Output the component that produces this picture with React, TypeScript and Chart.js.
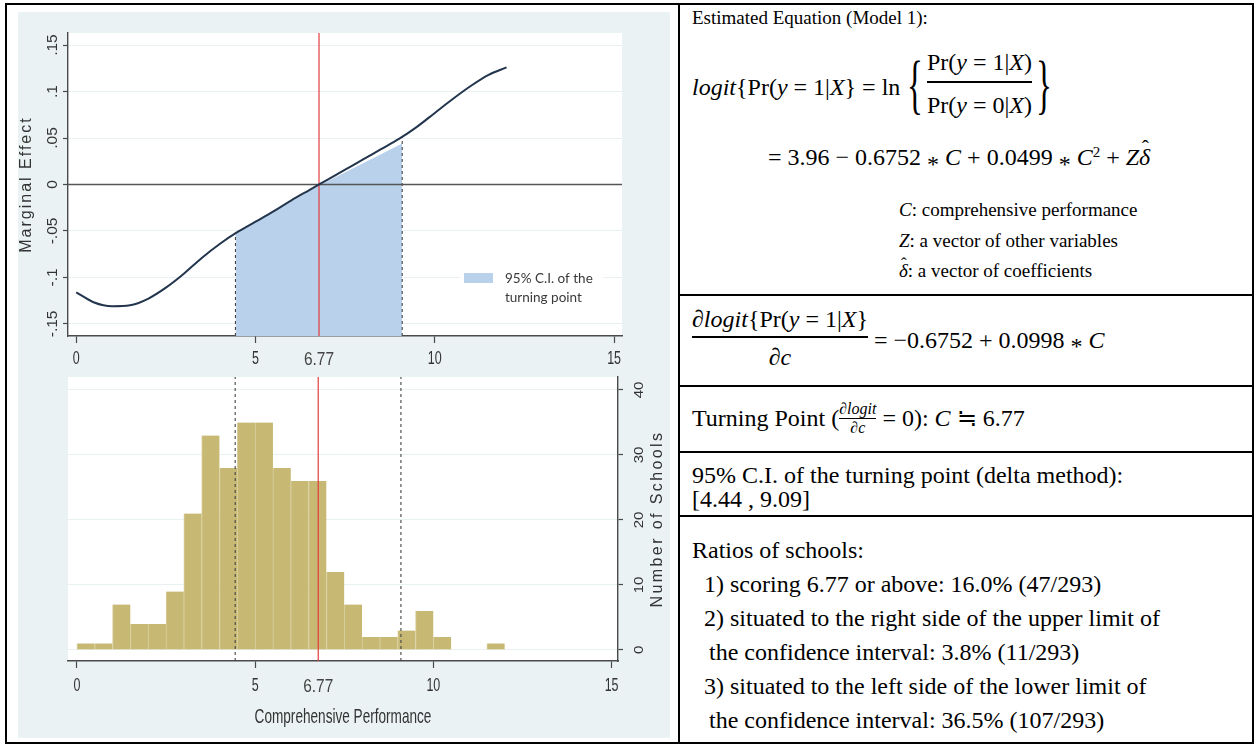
import React, { useEffect, useRef } from "react";
import { Chart, registerables } from "chart.js";

Chart.register(...registerables);

// ---------- data ----------
const TURNING = 6.77;
const CI_LOW = 4.44;
const CI_HIGH = 9.09;

const CURVE_X = [0, 0.5, 1, 1.5, 2, 2.5, 3, 3.5, 4, 4.5, 5, 5.5, 6, 6.5, 7, 7.5, 8, 8.5, 9, 9.5, 10, 10.5, 11, 11.5, 12];
const CURVE_Y = [-0.116, -0.127, -0.131, -0.13, -0.123, -0.111, -0.096, -0.079, -0.064, -0.051, -0.04, -0.029, -0.017, -0.006, 0.005, 0.016, 0.027, 0.038, 0.049, 0.062, 0.077, 0.092, 0.106, 0.118, 0.126];

const SHADE_X = [4.44, 6.77, 9.09];
const SHADE_Y = [-0.053, -0.001, 0.044];
const CI_LOW_CURVE = -0.052;
const CI_HIGH_CURVE = 0.051;

const BIN_WIDTH = 0.5;
const BIN_START = [0, 0.5, 1, 1.5, 2, 2.5, 3, 3.5, 4, 4.5, 5, 5.5, 6, 6.5, 7, 7.5, 8, 8.5, 9, 9.5, 10, 10.5, 11, 11.5];
const BIN_COUNT = [1, 1, 7, 4, 4, 9, 21, 33, 28, 35, 35, 28, 26, 26, 12, 7, 2, 2, 3, 6, 2, 0, 0, 1];

const X_TICKS = [0, 5, 10, 15];
const TOP_Y_TICKS = [-0.15, -0.1, -0.05, 0, 0.05, 0.1, 0.15];
const TOP_Y_LABELS = ["-.15", "-.1", "-.05", "0", ".05", ".1", ".15"];
const BOT_Y_TICKS = [0, 10, 20, 30, 40];
const BOT_Y_LABELS = ["0", "10", "20", "30", "40"];

const TOP_X_MIN = -0.23, TOP_X_MAX = 15.22, TOP_Y_MIN = -0.163, TOP_Y_MAX = 0.163;
const BOT_X_MIN = -0.25, BOT_X_MAX = 15.18, BOT_Y_MIN = -1.7, BOT_Y_MAX = 42;

// ---------- styles ----------
const AXIS = "#4a4a4a";
const GRID = "#e9f0f1";
const LABEL = "#333";
const RED = "#e23b3f";
const NAVY = "#22354d";
const SHADE = "#b9d1eb";
const KHAKI = "#c7b973";
const SANS = '"Liberation Sans", Arial, sans-serif';
const SERIF = '"Liberation Serif", "Times New Roman", serif';

type TOpt = { size: number; family?: string; color?: string; align?: CanvasTextAlign; rot?: number; sx?: number; sy?: number; ls?: number };
function txt(ctx: CanvasRenderingContext2D, s: string, x: number, y: number, o: TOpt) {
  ctx.save();
  ctx.translate(x, y);
  if (o.rot) ctx.rotate(o.rot);
  ctx.scale(o.sx ?? 1, o.sy ?? 1);
  ctx.font = `${o.size}px ${o.family ?? SANS}`;
  ctx.fillStyle = o.color ?? LABEL;
  ctx.textAlign = o.align ?? "center";
  ctx.textBaseline = "middle";
  if (o.ls) (ctx as any).letterSpacing = `${o.ls}px`;
  ctx.fillText(s, 0, 0);
  ctx.restore();
}

const whiteArea = {
  id: "whiteArea",
  beforeDraw(chart: any) {
    const { ctx, chartArea: a } = chart;
    ctx.save();
    ctx.fillStyle = "#ffffff";
    ctx.fillRect(a.left, a.top, a.right - a.left, a.bottom - a.top);
    ctx.restore();
  },
};

function xTickLabels(chart: any, dy: number) {
  const ctx = chart.ctx;
  const xs = chart.scales.x;
  const y = chart.chartArea.bottom + dy;
  X_TICKS.forEach((v) => txt(ctx, String(v), xs.getPixelForValue(v), y, { size: 12.5, sy: 1.45 }));
  txt(ctx, String(TURNING), xs.getPixelForValue(TURNING), y + 1, { size: 15.5, sy: 1.15, color: "#444" });
}

const topLabels = {
  id: "topLabels",
  afterDatasetsDraw(chart: any) {
    const { ctx, chartArea: a } = chart;
    ctx.save();
    ctx.fillStyle = "#fff";
    ctx.fillRect(a.left + 392, a.top + 233, 143, 44);
    ctx.fillStyle = SHADE;
    ctx.fillRect(a.left + 396, a.top + 240, 29, 10);
    ctx.restore();
    txt(ctx, "95% C.I. of the", a.left + 437, a.top + 246, { size: 13.5, family: "Lato, sans-serif", align: "left", color: "#3a3a3a" });
    txt(ctx, "turning point", a.left + 437, a.top + 265, { size: 13.5, family: "Lato, sans-serif", align: "left", color: "#3a3a3a" });
  },
  afterDraw(chart: any) {
    const { ctx, chartArea: a } = chart;
    const ys = chart.scales.y;
    xTickLabels(chart, 23);
    TOP_Y_TICKS.forEach((v, i) =>
      txt(ctx, TOP_Y_LABELS[i], a.left - 15, ys.getPixelForValue(v), { size: 15.5, rot: -Math.PI / 2, sy: 0.9 })
    );
    txt(ctx, "Marginal Effect", a.left - 41, (a.top + a.bottom) / 2, { size: 16, rot: -Math.PI / 2, ls: 2 });
  },
};

const botLabels = {
  id: "botLabels",
  afterDraw(chart: any) {
    const { ctx, chartArea: a } = chart;
    const ys = chart.scales.y;
    xTickLabels(chart, 25);
    BOT_Y_TICKS.forEach((v, i) =>
      txt(ctx, BOT_Y_LABELS[i], a.right + 22, ys.getPixelForValue(v), { size: 15, rot: -Math.PI / 2, sy: 0.8 })
    );
    txt(ctx, "Number of Schools", a.right + 40, (a.top + a.bottom) / 2, { size: 16, rot: -Math.PI / 2, ls: 2.4 });
    txt(ctx, "Comprehensive Performance", (a.left + a.right) / 2, a.bottom + 56, { size: 13.6, sy: 1.5 });
  },
};

function topConfig(): any {
  const curve = CURVE_X.map((x, i) => ({ x, y: CURVE_Y[i] }));
  const shade = SHADE_X.map((x, i) => ({ x, y: SHADE_Y[i] }));
  return {
    type: "line",
    data: {
      datasets: [
        { data: curve, borderColor: NAVY, borderWidth: 2, pointRadius: 0, tension: 0.4, cubicInterpolationMode: "monotone", order: 0 },
        { data: [{ x: TURNING, y: TOP_Y_MIN }, { x: TURNING, y: TOP_Y_MAX }], borderColor: RED, borderWidth: 1.2, pointRadius: 0, order: 1 },
        { data: [{ x: TOP_X_MIN, y: 0 }, { x: TOP_X_MAX, y: 0 }], borderColor: "#555", borderWidth: 1.6, pointRadius: 0, order: 2 },
        { data: [{ x: CI_LOW, y: TOP_Y_MIN }, { x: CI_LOW, y: CI_LOW_CURVE }], borderColor: "#444", borderWidth: 1.1, borderDash: [3, 3], pointRadius: 0, order: 3 },
        { data: [{ x: CI_HIGH, y: TOP_Y_MIN }, { x: CI_HIGH, y: CI_HIGH_CURVE }], borderColor: "#444", borderWidth: 1.1, borderDash: [3, 3], pointRadius: 0, order: 3 },
        { data: shade, borderWidth: 0, borderColor: SHADE, backgroundColor: SHADE, fill: "start", pointRadius: 0, tension: 0, order: 4 },
      ],
    },
    options: {
      responsive: false,
      animation: false,
      devicePixelRatio: 1,
      layout: { padding: { left: 0, right: 48, top: 21, bottom: 0 } },
      plugins: { legend: { display: false }, tooltip: { enabled: false } },
      scales: {
        x: {
          type: "linear", min: TOP_X_MIN, max: TOP_X_MAX,
          afterBuildTicks: (s: any) => { s.ticks = X_TICKS.map((v) => ({ value: v })); },
          afterFit: (s: any) => { s.height = 36; },
          ticks: { display: false },
          grid: { drawOnChartArea: false, drawTicks: true, tickLength: 7, tickColor: AXIS, tickWidth: 1.2 },
          border: { display: true, color: AXIS, width: 1.4 },
        },
        y: {
          type: "linear", min: TOP_Y_MIN, max: TOP_Y_MAX,
          afterBuildTicks: (s: any) => { s.ticks = TOP_Y_TICKS.map((v) => ({ value: v })); },
          afterFit: (s: any) => { s.width = 50; },
          ticks: { display: false },
          grid: { color: GRID, lineWidth: 1, drawTicks: true, tickLength: 5, tickColor: AXIS, tickWidth: 1.2 },
          border: { display: true, color: AXIS, width: 1.4 },
        },
      },
    },
    plugins: [whiteArea, topLabels],
  };
}

function botConfig(): any {
  const bars = BIN_START.map((s, i) => ({ x: s + BIN_WIDTH / 2, y: BIN_COUNT[i] }));
  return {
    type: "bar",
    data: {
      datasets: [
        { type: "line", data: [{ x: TURNING, y: BOT_Y_MIN }, { x: TURNING, y: BOT_Y_MAX }], borderColor: RED, borderWidth: 1.2, pointRadius: 0, order: 0 },
        { type: "line", data: [{ x: CI_LOW, y: BOT_Y_MIN }, { x: CI_LOW, y: BOT_Y_MAX }], borderColor: "#444", borderWidth: 1.1, borderDash: [3, 3], pointRadius: 0, order: 1 },
        { type: "line", data: [{ x: CI_HIGH, y: BOT_Y_MIN }, { x: CI_HIGH, y: BOT_Y_MAX }], borderColor: "#444", borderWidth: 1.1, borderDash: [3, 3], pointRadius: 0, order: 1 },
        {
          type: "bar", data: bars, backgroundColor: KHAKI, borderColor: "#d9cf9f",
          borderWidth: { left: 1, right: 0, top: 0, bottom: 0 }, borderSkipped: false,
          barPercentage: 1, categoryPercentage: 1, order: 2,
        },
      ],
    },
    options: {
      responsive: false,
      animation: false,
      devicePixelRatio: 1,
      layout: { padding: { left: 50, right: 0, top: 5, bottom: 0 } },
      plugins: { legend: { display: false }, tooltip: { enabled: false } },
      scales: {
        x: {
          type: "linear", min: BOT_X_MIN, max: BOT_X_MAX, offset: false,
          afterBuildTicks: (s: any) => { s.ticks = X_TICKS.map((v) => ({ value: v })); },
          afterFit: (s: any) => { s.height = 77; },
          ticks: { display: false },
          grid: { drawOnChartArea: false, drawTicks: true, tickLength: 7, tickColor: AXIS, tickWidth: 1.2, offset: false },
          border: { display: true, color: AXIS, width: 1.4 },
        },
        y: {
          type: "linear", position: "right", min: BOT_Y_MIN, max: BOT_Y_MAX,
          afterBuildTicks: (s: any) => { s.ticks = BOT_Y_TICKS.map((v) => ({ value: v })); },
          afterFit: (s: any) => { s.width = 52; },
          ticks: { display: false },
          grid: { color: GRID, lineWidth: 1, drawTicks: true, tickLength: 5, tickColor: AXIS, tickWidth: 1.2 },
          border: { display: true, color: AXIS, width: 1.4 },
        },
      },
    },
    plugins: [whiteArea, botLabels],
  };
}

// ---------- right-hand text panel ----------
const TF = 19;   // upper block text
const LF = 24;   // lower rows text
const MF = 24;   // math
const LX = 692;  // left text margin

function Row({ x, y, h = 30, size = LF, children }: { x: number; y: number; h?: number; size?: number; children: any }) {
  return (
    <div style={{ position: "absolute", left: x, top: y - h / 2, height: h, lineHeight: `${h}px`, fontSize: size, fontFamily: SERIF, whiteSpace: "nowrap", color: "#000" }}>
      {children}
    </div>
  );
}

const I = ({ children }: { children: any }) => <i>{children}</i>;
const Star = () => <span style={{ position: "relative", top: "0.28em" }}>*</span>;
const DeltaHat = () => (
  <span style={{ position: "relative", display: "inline-block" }}>
    <i>δ</i>
    <span style={{ position: "absolute", left: "0.12em", top: "-0.42em", fontSize: "0.9em" }}>ˆ</span>
  </span>
);
const HLine = ({ y }: { y: number }) => (
  <div style={{ position: "absolute", left: 679, width: 575, top: y - 1, height: 2, background: "#000" }} />
);

function Brace({ ch, size = 66 }: { ch: string; size?: number }) {
  return (
    <span style={{ display: "inline-block", fontSize: size, lineHeight: `${size}px`, transform: "scaleX(0.5)", fontFamily: SERIF, margin: "0 -6px" }}>{ch}</span>
  );
}

export default function App() {
  const topRef = useRef<HTMLCanvasElement>(null);
  const botRef = useRef<HTMLCanvasElement>(null);

  useEffect(() => {
    document.body.style.margin = "0";
    const c1 = new Chart(topRef.current as HTMLCanvasElement, topConfig());
    const c2 = new Chart(botRef.current as HTMLCanvasElement, botConfig());
    return () => {
      c1.destroy();
      c2.destroy();
    };
  }, []);

  return (
    <div style={{ position: "absolute", left: 0, top: 0, width: 1256, height: 746, background: "#fff", overflow: "hidden" }}>
      {/* table borders */}
      <div style={{ position: "absolute", left: 5, top: 3, width: 1249, height: 741, border: "2px solid #000", boxSizing: "border-box" }} />
      <div style={{ position: "absolute", left: 678, top: 3, width: 2, height: 741, background: "#000" }} />

      {/* graph panel */}
      <div style={{ position: "absolute", left: 18, top: 12, width: 652, height: 726, background: "#eaf2f3" }} />
      <canvas ref={topRef} width={652} height={360} style={{ position: "absolute", left: 18, top: 12, width: 652, height: 360 }} />
      <canvas ref={botRef} width={652} height={366} style={{ position: "absolute", left: 18, top: 372, width: 652, height: 366 }} />

      {/* text panel */}
      <Row x={LX} y={18} size={19} h={26}>Estimated Equation (Model 1):</Row>

      <div style={{ position: "absolute", left: LX, top: 47, height: 80, display: "flex", alignItems: "center", fontFamily: SERIF, fontSize: MF, whiteSpace: "nowrap" }}>
        <span><I>logit</I>{"{"}Pr(<I>y</I> = 1|<I>X</I>{"}"} = ln</span>
        <span style={{ width: 5 }} />
        <span style={{ position: "relative", top: -3 }}><Brace ch="{" /></span>
        <span style={{ display: "inline-flex", flexDirection: "column", alignItems: "center", position: "relative", top: -2, padding: "0 2px" }}>
          <span style={{ height: 38, lineHeight: "38px" }}>Pr(<I>y</I> = 1|<I>X</I>)</span>
          <span style={{ alignSelf: "stretch", borderTop: "2px solid #000" }} />
          <span style={{ height: 44, lineHeight: "44px" }}>Pr(<I>y</I> = 0|<I>X</I>)</span>
        </span>
        <span style={{ position: "relative", top: -3 }}><Brace ch="}" /></span>
      </div>

      <Row x={768} y={152} size={MF}>= 3.96 − 0.6752 <Star /> <I>C</I> + 0.0499 <Star /> <I>C</I><sup style={{ fontSize: 15, verticalAlign: "0.55em" }}>2</sup> + <I>Z</I><DeltaHat /></Row>
      <Row x={899} y={210} size={TF} h={26}><I>C</I>: comprehensive performance</Row>
      <Row x={899} y={241} size={TF} h={26}><I>Z</I>: a vector of other variables</Row>
      <Row x={899} y={271} size={TF} h={26}><DeltaHat />: a vector of coefficients</Row>
      <HLine y={295} />

      <div style={{ position: "absolute", left: LX, top: 300, height: 80, display: "flex", alignItems: "center", fontFamily: SERIF, fontSize: MF, whiteSpace: "nowrap" }}>
        <span style={{ display: "inline-flex", flexDirection: "column", alignItems: "center", position: "relative", top: -1 }}>
          <span style={{ height: 34, lineHeight: "34px" }}>∂<I>logit</I>{"{"}Pr(<I>y</I> = 1|<I>X</I>{"}"}</span>
          <span style={{ alignSelf: "stretch", borderTop: "2px solid #000" }} />
          <span style={{ height: 38, lineHeight: "38px" }}>∂<I>c</I></span>
        </span>
        <span>&nbsp;= −0.6752 + 0.0998 <Star /> <I>C</I></span>
      </div>
      <HLine y={386} />

      <div style={{ position: "absolute", left: LX, top: 397, height: 42, display: "flex", alignItems: "center", fontFamily: SERIF, fontSize: LF, whiteSpace: "nowrap" }}>
        <span>Turning Point (</span>
        <span style={{ display: "inline-flex", flexDirection: "column", alignItems: "center", fontSize: 16, lineHeight: "18px" }}>
          <span>∂<I>logit</I></span>
          <span style={{ alignSelf: "stretch", borderTop: "1px solid #000" }} />
          <span>∂<I>c</I></span>
        </span>
        <span>&nbsp;= 0): <I>C</I> ≒ 6.77</span>
      </div>
      <HLine y={452} />

      <Row x={LX} y={475}>95% C.I. of the turning point (delta method):</Row>
      <Row x={LX} y={499}>[4.44 , 9.09]</Row>
      <HLine y={516} />

      <Row x={LX} y={550}>Ratios of schools:</Row>
      <Row x={LX + 12} y={584}>1) scoring 6.77 or above: 16.0% (47/293)</Row>
      <Row x={LX + 12} y={618}>2) situated to the right side of the upper limit of</Row>
      <Row x={LX + 17} y={652}>the confidence interval: 3.8% (11/293)</Row>
      <Row x={LX + 12} y={686}>3) situated to the left side of the lower limit of</Row>
      <Row x={LX + 17} y={720}>the confidence interval: 36.5% (107/293)</Row>
    </div>
  );
}
